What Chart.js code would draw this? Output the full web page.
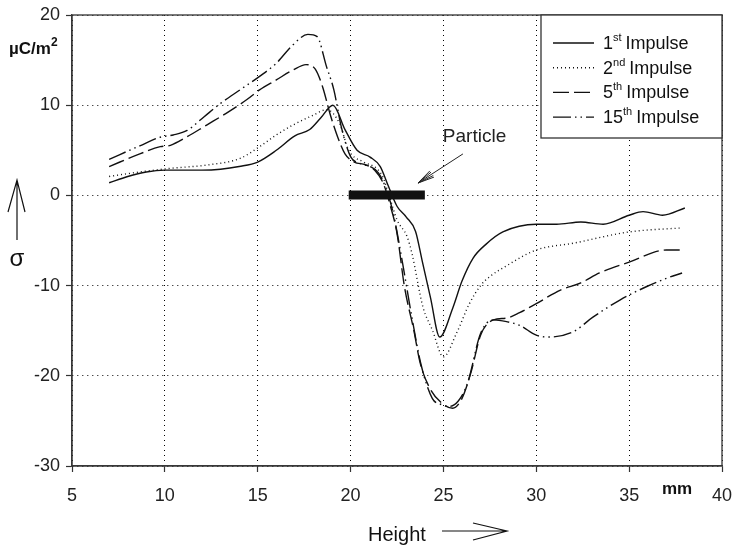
<!DOCTYPE html>
<html lang="en">
<head>
<meta charset="UTF-8" />
<title>Surface charge vs height</title>
<script src="https://cdn.jsdelivr.net/npm/chart.js"></script>
<style>
  html, body { margin: 0; padding: 0; background: #fff; }
  #wrap { width: 734px; height: 549px; }
</style>
</head>
<body>
<div id="wrap"><canvas id="sigmaChart" width="734" height="549"></canvas></div>
<script>
  // height in mm, sigma in uC/m2
  const height1 = [7, 8, 9, 10, 11, 12, 13, 14, 15, 16, 17, 17.8, 18.4, 19.05, 19.7, 20.35, 21.05, 21.6, 22.0, 22.5, 23.0, 23.5, 23.85, 24.3, 24.8, 25.5, 26.0, 26.6, 27.3, 28.2, 30.0, 31.1, 32.4, 33.6, 35.0, 35.75, 36.8, 38.0];
  const sigma1  = [1.4, 2.1, 2.6, 2.8, 2.8, 2.8, 2.9, 3.2, 3.7, 5.0, 6.6, 7.3, 8.6, 10.0, 7.3, 5.0, 4.25, 3.2, 1.2, -1.2, -2.4, -4.0, -7.2, -11.3, -15.7, -12.5, -9.5, -6.95, -5.4, -4.05, -3.2, -3.2, -2.95, -3.2, -2.2, -1.8, -2.2, -1.4];

  const height2 = [7, 8.65, 10.3, 12.4, 14.05, 15.1, 16.0, 16.9, 18.0, 18.7, 19.4, 19.9, 20.7, 21.4, 21.75, 22.1, 22.5, 23.05, 23.3, 23.9, 24.4, 25.0, 25.7, 26.4, 27.0, 27.5, 28.4, 30.0, 32.0, 35.0, 37.85];
  const sigma2  = [2.1, 2.6, 3.0, 3.4, 4.1, 5.4, 6.7, 7.8, 8.9, 9.5, 8.0, 5.0, 3.7, 3.0, 2.0, -0.2, -2.7, -4.6, -6.4, -12.4, -14.9, -17.9, -15.3, -12.0, -10.0, -9.0, -7.8, -6.05, -5.3, -4.05, -3.6];

  const height5 = [7, 8.65, 9.75, 10.3, 11.2, 12.25, 13.3, 14.4, 15.1, 16.0, 16.9, 17.6, 18.1, 18.5, 18.9, 19.3, 19.7, 20.2, 20.8, 21.3, 21.75, 22.1, 22.5, 22.9, 23.4, 23.75, 24.3, 24.9, 25.5, 26.0, 26.5, 27.0, 27.7, 28.4, 29.1, 30.0, 31.3, 32.4, 33.4, 35.0, 37.0, 37.9];
  const sigma5  = [3.2, 4.6, 5.4, 5.55, 6.5, 7.8, 9.1, 10.6, 11.7, 12.8, 13.9, 14.5, 14.0, 12.0, 9.0, 6.5, 4.6, 3.7, 3.4, 2.8, 1.4, -0.85, -4.2, -10.1, -14.9, -18.6, -21.5, -23.0, -23.6, -22.5, -19.5, -15.5, -13.8, -13.6, -13.0, -12.0, -10.5, -9.7, -8.6, -7.4, -6.05, -6.05];

  const height15 = [7, 8.65, 9.75, 10.45, 11.2, 12.1, 13.0, 14.05, 15.1, 16.0, 16.9, 17.7, 18.2, 18.7, 19.1, 19.5, 20.0, 20.5, 21.05, 21.5, 21.9, 22.3, 22.8, 23.3, 23.8, 24.4, 24.9, 25.3, 25.8, 26.3, 27.0, 27.7, 28.4, 29.1, 30.0, 30.7, 32.0, 33.05, 34.5, 35.95, 37.0, 37.85];
  const sigma15  = [4.0, 5.5, 6.45, 6.7, 7.2, 8.7, 10.2, 11.7, 13.2, 14.65, 16.7, 17.85, 17.6, 14.3, 11.7, 7.6, 4.3, 3.55, 3.2, 2.5, 0.8, -2.0, -7.5, -13.5, -18.8, -22.5, -23.2, -23.4, -22.8, -20.8, -15.3, -13.8, -14.0, -14.4, -15.5, -15.7, -15.1, -13.5, -11.6, -10.1, -9.2, -8.6];

  const particleX = [19.9, 24.0];
  const particleY = [0.05, 0.05];

  const xTicks = [5, 10, 15, 20, 25, 30, 35, 40];
  const yTicks = [-30, -20, -10, 0, 10, 20];

  const legendNums = ["1", "2", "5", "15"];
  const legendSups = ["st", "nd", "th", "th"];

  const dashes = [[], [1, 3], [16, 5], [18, 4, 1.5, 4, 1.5, 4]];

  const FONT = "'Liberation Sans', Arial, sans-serif";

  function toPoints(xs, ys) {
    return xs.map((x, i) => ({ x: x, y: ys[i] }));
  }

  function curve(label, xs, ys, dash) {
    return {
      label: label,
      data: toPoints(xs, ys),
      showLine: true,
      borderColor: "#111",
      borderWidth: 1.4,
      borderDash: dash,
      pointRadius: 0,
      cubicInterpolationMode: "monotone",
      fill: false
    };
  }

  // axis titles, legend box, particle label and the frame
  const extras = {
    id: "extras",
    afterDraw(chart) {
      const ctx = chart.ctx;
      const area = chart.chartArea;
      const xs = chart.scales.x;
      const ys = chart.scales.y;
      ctx.save();

      // frame
      ctx.strokeStyle = "#333";
      ctx.lineWidth = 1.3;
      ctx.setLineDash([]);
      ctx.strokeRect(area.left, area.top, area.right - area.left, area.bottom - area.top);

      // legend
      const lx = 541, ly = area.top, lw = area.right - 541, lh = 123;
      ctx.fillStyle = "#fff";
      ctx.fillRect(lx, ly, lw, lh);
      ctx.strokeRect(lx, ly, lw, lh);
      ctx.fillStyle = "#111";
      ctx.textBaseline = "middle";
      legendNums.forEach((n, i) => {
        const y = ly + 28 + i * 24.7;
        ctx.beginPath();
        ctx.setLineDash(dashes[i]);
        ctx.lineWidth = 1.4;
        ctx.strokeStyle = "#111";
        ctx.moveTo(553, y);
        ctx.lineTo(594, y);
        ctx.stroke();
        ctx.setLineDash([]);
        let tx = 603;
        ctx.font = "18px " + FONT;
        ctx.fillText(n, tx, y + 1);
        tx += ctx.measureText(n).width;
        ctx.font = "11px " + FONT;
        ctx.fillText(legendSups[i], tx, y - 5);
        tx += ctx.measureText(legendSups[i]).width + 4;
        ctx.font = "18px " + FONT;
        ctx.fillText("Impulse", tx, y + 1);
      });

      // particle label + arrow
      ctx.font = "19px " + FONT;
      ctx.fillStyle = "#222";
      ctx.textBaseline = "middle";
      ctx.fillText("Particle", xs.getPixelForValue(24.97), ys.getPixelForValue(6.47));
      const ax0 = xs.getPixelForValue(26.05), ay0 = ys.getPixelForValue(4.6);
      const ax1 = xs.getPixelForValue(23.63), ay1 = ys.getPixelForValue(1.37);
      const ang = Math.atan2(ay1 - ay0, ax1 - ax0);
      ctx.strokeStyle = "#222";
      ctx.lineWidth = 1;
      ctx.beginPath();
      ctx.moveTo(ax0, ay0);
      ctx.lineTo(ax1, ay1);
      [0.22, -0.22, 0.12, -0.12].forEach(d => {
        ctx.moveTo(ax1, ay1);
        ctx.lineTo(ax1 - 17 * Math.cos(ang + d), ay1 - 17 * Math.sin(ang + d));
      });
      ctx.stroke();

      // y axis unit and symbol
      ctx.fillStyle = "#111";
      ctx.font = "bold 17px " + FONT;
      ctx.textBaseline = "alphabetic";
      ctx.fillText("\u00b5C/m", 9, 54);
      const uw = ctx.measureText("\u00b5C/m").width;
      ctx.font = "bold 12px " + FONT;
      ctx.fillText("2", 9 + uw, 46);

      ctx.strokeStyle = "#111";
      ctx.lineWidth = 1.2;
      ctx.beginPath();
      ctx.moveTo(17, 240); ctx.lineTo(17, 180);
      ctx.moveTo(8, 212); ctx.lineTo(17, 180); ctx.lineTo(25, 212);
      ctx.stroke();
      ctx.font = "24px " + FONT;
      ctx.textAlign = "center";
      ctx.textBaseline = "middle";
      ctx.fillText("\u03c3", 17, 259);

      // x axis unit and title
      ctx.textAlign = "left";
      ctx.font = "bold 17px " + FONT;
      ctx.fillText("mm", 662, 489);
      ctx.font = "20px " + FONT;
      ctx.fillText("Height", 368, 535);
      ctx.beginPath();
      ctx.moveTo(442, 531); ctx.lineTo(507, 531);
      ctx.moveTo(473, 523); ctx.lineTo(507, 531); ctx.lineTo(473, 540);
      ctx.stroke();

      ctx.restore();
    }
  };

  const scaleGrid = {
    color: "#000",
    lineWidth: 1,
    drawTicks: true,
    tickLength: 6,
    tickColor: "#333",
    tickWidth: 1.2,
    tickBorderDash: []
  };

  new Chart(document.getElementById("sigmaChart"), {
    type: "scatter",
    data: {
      datasets: [
        {
          label: "Particle",
          data: toPoints(particleX, particleY),
          showLine: true,
          borderColor: "#111",
          borderWidth: 9,
          borderCapStyle: "butt",
          pointRadius: 0
        },
        curve("1st Impulse", height1, sigma1, dashes[0]),
        curve("2nd Impulse", height2, sigma2, dashes[1]),
        curve("5th Impulse", height5, sigma5, dashes[2]),
        curve("15th Impulse", height15, sigma15, dashes[3])
      ]
    },
    options: {
      responsive: false,
      animation: false,
      devicePixelRatio: 1,
      layout: { padding: { left: 0, top: 15, right: 12, bottom: 0 } },
      plugins: { legend: { display: false }, tooltip: { enabled: false } },
      scales: {
        x: {
          type: "linear",
          min: 5,
          max: 40,
          afterBuildTicks: s => { s.ticks = xTicks.map(v => ({ value: v })); },
          afterFit: s => { s.height = 83; s.paddingRight = 0; s.paddingLeft = 0; },
          ticks: { color: "#222", font: { family: FONT, size: 18 }, padding: 13, maxRotation: 0 },
          grid: scaleGrid,
          border: { display: true, color: "#444", width: 1.3, dash: [1, 4] }
        },
        y: {
          type: "linear",
          min: -30,
          max: 20,
          afterBuildTicks: s => { s.ticks = yTicks.map(v => ({ value: v })); },
          afterFit: s => { s.width = 72; s.paddingTop = 0; s.paddingBottom = 0; },
          ticks: { color: "#222", font: { family: FONT, size: 18 }, padding: 6 },
          grid: scaleGrid,
          border: { display: true, color: "#444", width: 1.3, dash: [1, 4] }
        }
      }
    },
    plugins: [extras]
  });
</script>
</body>
</html>
